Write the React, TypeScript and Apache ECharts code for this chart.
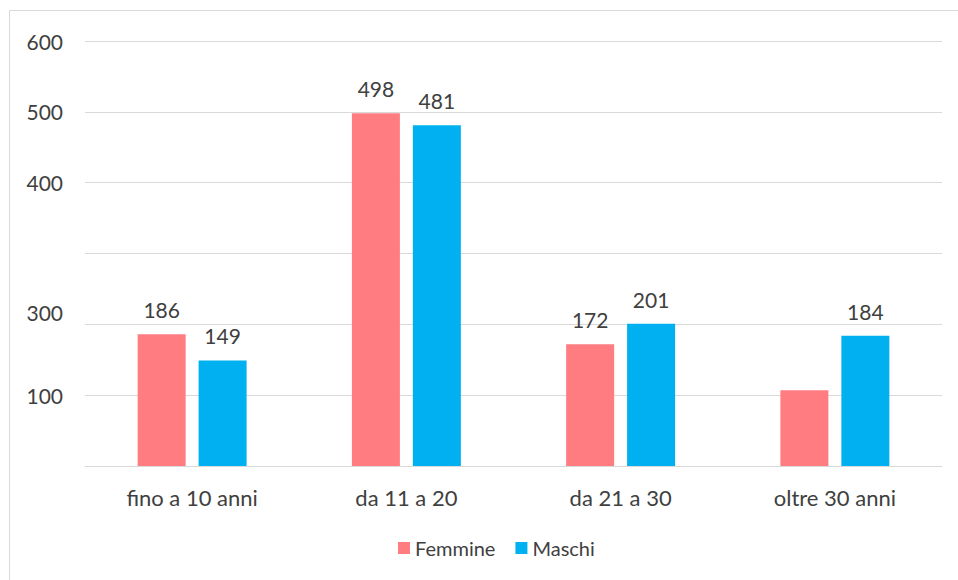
import React, { useEffect, useRef } from "react";
import * as echarts from "echarts";

const categories = ["fino a 10 anni", "da 11 a 20", "da 21 a 30", "oltre 30 anni"];
const femmine = [186, 498, 172, 107];
const maschi = [149, 481, 201, 184];
const femmineLabels = ["186", "498", "172", ""];
const maschiLabels = ["149", "481", "201", "184"];
// tick labels as shown in the picture (value -> shown text)
const tickValues = [0, 100, 200, 300, 400, 500, 600];
const tickLabels = ["", "100", "300", "", "400", "500", "600"];

const FONT = "Lato, 'Open Sans', sans-serif";
const TEXT = "#404040";
const FS = 21;

export default function App() {
  const ref = useRef<HTMLDivElement>(null);
  useEffect(() => {
    const chart = echarts.init(ref.current!, null, { renderer: "svg" });
    chart.setOption({
      animation: false,
      backgroundColor: "#ffffff",
      textStyle: { fontFamily: FONT },
      grid: { left: 85, right: 16, top: 41, bottom: 114, containLabel: false },
      legend: {
        bottom: 17,
        left: 393,
        itemWidth: 12,
        itemHeight: 12,
        itemGap: 20,
        icon: "rect",
        textStyle: { fontSize: 20, color: TEXT, fontFamily: FONT },
        data: ["Femmine", "Maschi"],
      },
      xAxis: {
        type: "category",
        data: categories,
        axisLine: { show: true, lineStyle: { color: "#d9d9d9", width: 1 } },
        axisTick: { show: false },
        axisLabel: { fontSize: 22, color: TEXT, margin: 20, fontFamily: FONT },
      },
      yAxis: {
        type: "value",
        min: 0,
        max: 600,
        interval: 100,
        axisLine: { show: false },
        axisTick: { show: false },
        splitLine: { lineStyle: { color: "#d9d9d9", width: 1 } },
        axisLabel: {
          fontSize: FS,
          color: TEXT,
          margin: 22,
          fontFamily: FONT,
          formatter: (v: number) => {
            const i = tickValues.indexOf(v);
            const t = i >= 0 ? tickLabels[i] : "";
            if (v === 200) return "{up|" + t + "}";
            return t;
          },
          rich: {
            up: { fontSize: FS, color: TEXT, fontFamily: FONT, padding: [0, 0, 24, 0] },
          },
        },
      },
      series: [
        {
          name: "Femmine",
          type: "bar",
          data: femmine,
          barWidth: 48,
          barGap: "27%",
          itemStyle: { color: "#FF7C80" },
          label: {
            show: true,
            position: "top",
            distance: 14,
            fontSize: FS,
            color: TEXT,
            fontFamily: FONT,
            formatter: (p: any) => femmineLabels[p.dataIndex],
          },
        },
        {
          name: "Maschi",
          type: "bar",
          data: maschi,
          barWidth: 48,
          barGap: "27%",
          itemStyle: { color: "#00B0F0" },
          label: {
            show: true,
            position: "top",
            distance: 14,
            fontSize: FS,
            color: TEXT,
            fontFamily: FONT,
            formatter: (p: any) => maschiLabels[p.dataIndex],
          },
        },
      ],
      graphic: [
        {
          type: "line",
          shape: { x1: 9.5, y1: 10.5, x2: 958, y2: 10.5 },
          style: { stroke: "#d9d9d9", lineWidth: 1 },
          silent: true,
        },
        {
          type: "line",
          shape: { x1: 9.5, y1: 10.5, x2: 9.5, y2: 580 },
          style: { stroke: "#d9d9d9", lineWidth: 1 },
          silent: true,
        },
      ],
    });
    return () => chart.dispose();
  }, []);
  return (
    <div
      ref={ref}
      style={{ position: "fixed", left: 0, top: 0, width: 958, height: 580 }}
    />
  );
}
